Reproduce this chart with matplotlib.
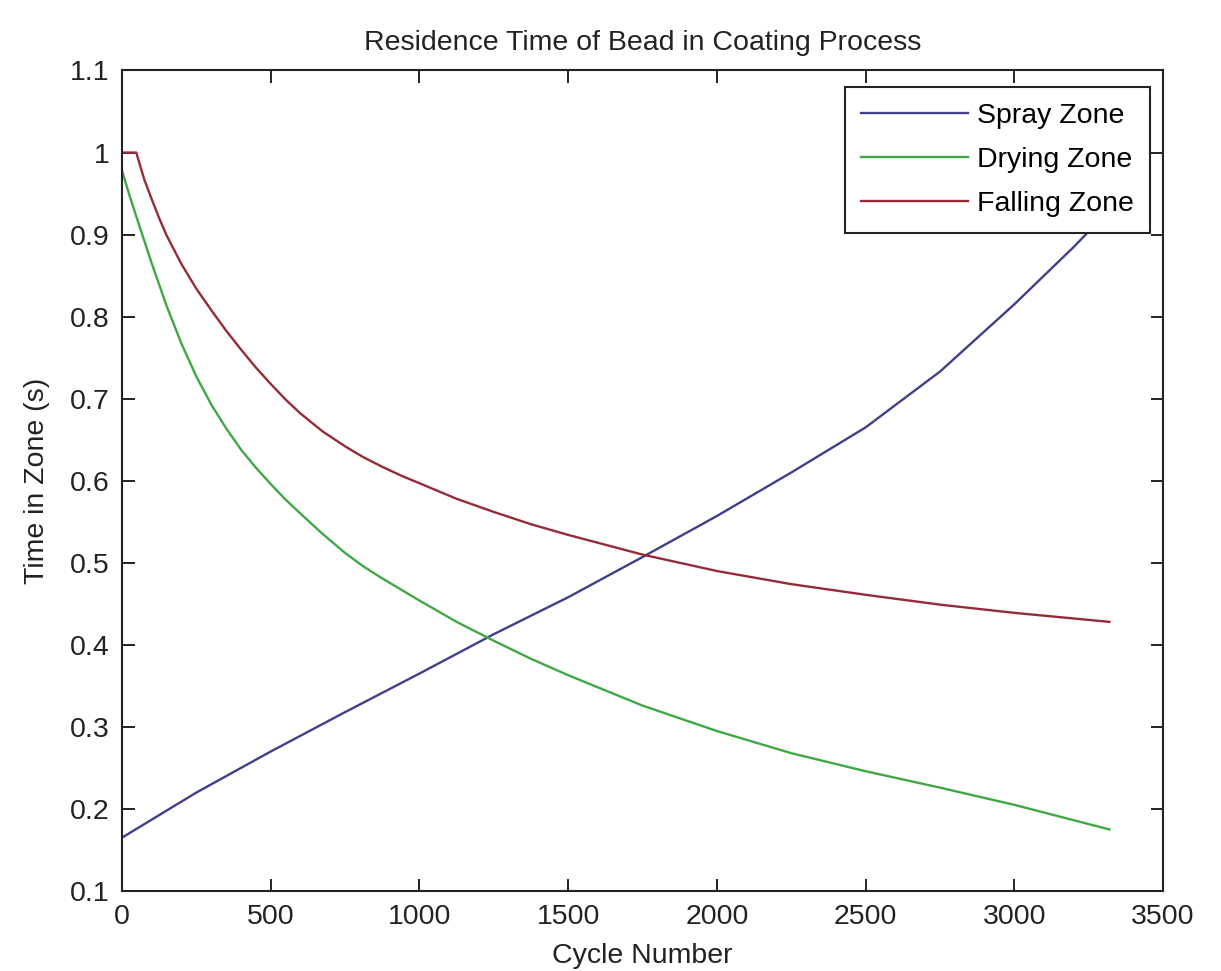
import matplotlib
matplotlib.use("Agg")
import matplotlib.pyplot as plt

# ---- data ----
spray_x = [0, 250, 500, 750, 1000, 1250, 1500, 1750, 2000, 2250, 2500, 2750, 3000, 3100, 3200, 3320]
spray_y = [0.165, 0.22, 0.27, 0.318, 0.365, 0.413, 0.458, 0.507, 0.557, 0.61, 0.665, 0.733, 0.815, 0.85, 0.885, 0.93]

drying_x = [0, 25, 50, 100, 150, 200, 250, 300, 350, 400, 450, 500, 550, 600, 675, 750, 810, 875,
            940, 1000, 1125, 1250, 1375, 1500, 1750, 2000, 2250, 2500, 2750, 3000, 3320]
drying_y = [0.978, 0.948, 0.92, 0.865, 0.813, 0.767, 0.727, 0.693, 0.664, 0.638, 0.616, 0.596, 0.577,
            0.56, 0.535, 0.512, 0.496, 0.481, 0.467, 0.454, 0.428, 0.405, 0.383, 0.363, 0.326, 0.295,
            0.268, 0.246, 0.226, 0.205, 0.175]

falling_x = [0, 48, 75, 100, 125, 150, 200, 250, 300, 350, 400, 450, 500, 550, 600, 675, 750, 810,
             875, 940, 1000, 1125, 1250, 1375, 1500, 1750, 2000, 2250, 2500, 2750, 3000, 3320]
falling_y = [1.0, 1.0, 0.967, 0.943, 0.92, 0.899, 0.864, 0.834, 0.808, 0.783, 0.76, 0.738, 0.718, 0.699,
             0.682, 0.66, 0.642, 0.629, 0.617, 0.606, 0.597, 0.578, 0.562, 0.547, 0.534, 0.51, 0.49,
             0.474, 0.461, 0.449, 0.439, 0.428]

labels = ["Spray Zone", "Drying Zone", "Falling Zone"]
colors = ["#3f3f8c", "#3fa845", "#962b38"]

xticks = [0, 500, 1000, 1500, 2000, 2500, 3000, 3500]
xticklabels = ["0", "500", "1000", "1500", "2000", "2500", "3000", "3500"]
yticks = [0.1, 0.2, 0.3, 0.4, 0.5, 0.6, 0.7, 0.8, 0.9, 1.0, 1.1]
yticklabels = ["0.1", "0.2", "0.3", "0.4", "0.5", "0.6", "0.7", "0.8", "0.9", "1", "1.1"]

plt.rcParams['font.family'] = ['Liberation Sans', 'DejaVu Sans']
FS = 20.5

fig = plt.figure(figsize=(12.21, 9.71), dpi=100)
ax = fig.add_axes([122/1221, 1 - 891/971, (1163-122)/1221, (891-70.5)/971])

ax.plot(spray_x, spray_y, color=colors[0], lw=1.7, label=labels[0])
ax.plot(drying_x, drying_y, color=colors[1], lw=1.7, label=labels[1])
ax.plot(falling_x, falling_y, color=colors[2], lw=1.7, label=labels[2])

ax.set_xlim(0, 3500)
ax.set_ylim(0.1, 1.1)
ax.set_xticks(xticks)
ax.set_xticklabels(xticklabels)
ax.set_yticks(yticks)
ax.set_yticklabels(yticklabels)
ax.tick_params(direction='in', length=9, width=1.4, top=True, right=True,
               labelsize=FS, colors='#222222', pad=9)
for s in ax.spines.values():
    s.set_linewidth(1.5)
    s.set_color('#222222')

ax.set_title("Residence Time of Bead in Coating Process", fontsize=FS, color='#222222', pad=15)
ax.set_xlabel("Cycle Number", fontsize=FS, color='#222222', labelpad=10)
ax.set_ylabel("Time in Zone (s)", fontsize=FS, color='#222222', labelpad=14)

leg = ax.legend(loc='upper right', bbox_to_anchor=((1150-122)/1041, (891-87)/820.5),
                borderaxespad=0, fontsize=FS, handlelength=3.75, handletextpad=0.35,
                labelspacing=0.64, borderpad=0.55, fancybox=False, framealpha=1,
                edgecolor='#222222')
leg.get_frame().set_linewidth(1.5)

fig.savefig("out.png", dpi=100, facecolor='white')
